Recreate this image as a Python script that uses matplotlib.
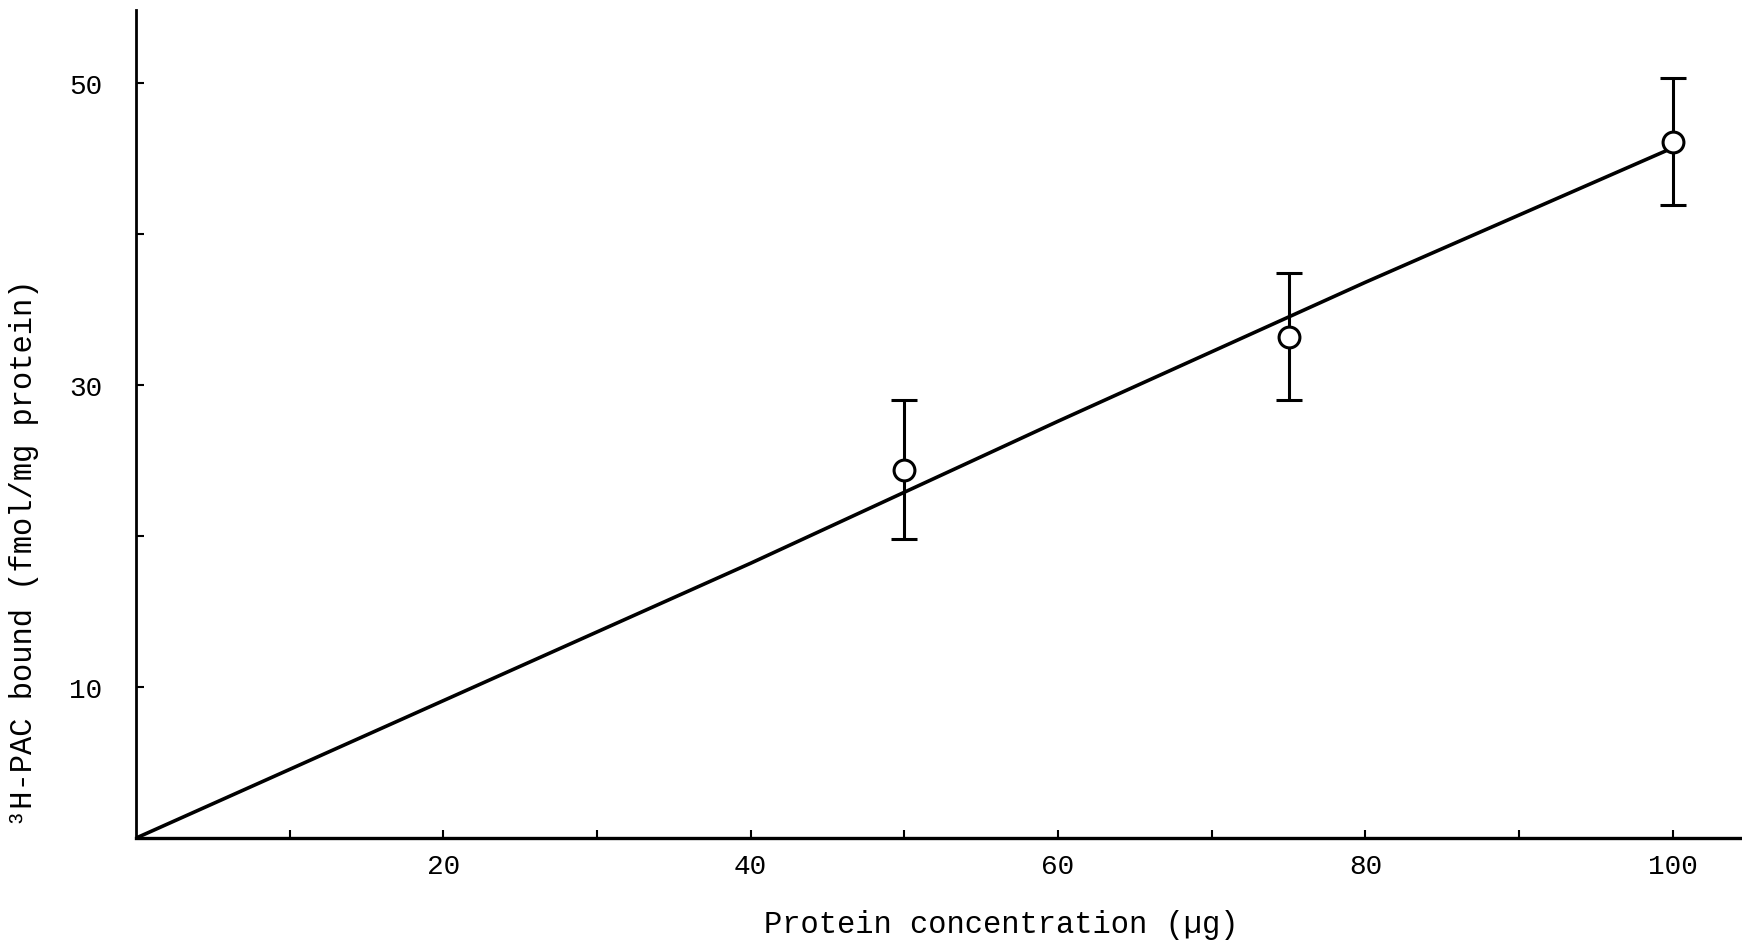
import numpy as np
import matplotlib.pyplot as plt

# measured points (mean +/- error)
conc = [50, 75, 100]
bound = [24.4, 33.2, 46.1]
err = [4.6, 4.2, 4.2]

# fitted line as drawn on the figure
line_x = [0, 20, 40, 60, 80, 100]
line_y = [0, 9.1, 18.2, 27.6, 36.8, 45.7]

plt.rcParams['font.family'] = ['Liberation Mono', 'DejaVu Sans Mono']

fig = plt.figure(figsize=(17.42, 9.45), dpi=100)
ax = fig.add_axes([0.078, 0.112, 0.922, 0.876])

ax.plot(line_x, line_y, color='black', lw=2.6, zorder=2)
ax.errorbar(conc, bound, yerr=err, fmt='o', color='black', ms=15,
            mfc='white', mec='black', mew=2.2, elinewidth=2.2,
            capsize=9.5, capthick=2.6, zorder=3)

ax.set_xlim(0, 104.5)
ax.set_ylim(0, 54.8)
ax.spines['top'].set_visible(False)
ax.spines['right'].set_visible(False)
ax.spines['left'].set_linewidth(2)
ax.spines['bottom'].set_linewidth(2.4)

ax.set_xticks([20, 40, 60, 80, 100])
ax.set_xticks([10, 30, 50, 70, 90], minor=True)
ax.set_yticks([10, 30, 50])
ax.set_yticks([20, 40], minor=True)
ax.tick_params(which='both', direction='in', length=6, width=1.5)
ax.tick_params(axis='x', which='major', labelsize=20, pad=11)
ax.tick_params(axis='y', which='major', labelsize=20, pad=24)

fig.text(0.575, 0.021, 'Protein concentration (\u00b5g)', fontsize=22,
         ha='center', va='center')
fig.text(0.014, 0.415, '\u00b3H-PAC bound (fmol/mg protein)', fontsize=22,
         rotation=90, ha='center', va='center')

fig.savefig('out.png', dpi=100)
